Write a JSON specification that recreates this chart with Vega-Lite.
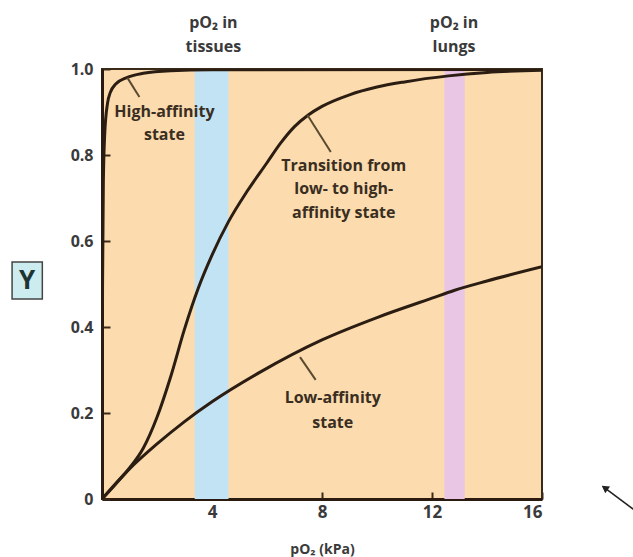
{
  "$schema": "https://vega.github.io/schema/vega-lite/v6.json",
  "autosize": {"type": "none"},
  "width": 440,
  "height": 430,
  "padding": {"left": 102, "top": 69, "right": 91, "bottom": 58},
  "background": "white",
  "config": {
    "view": {"fill": "#fcdcae", "stroke": "#3a2a1a", "strokeWidth": 2},
    "font": "Open Sans"
  },
  "datasets": {
    "bands": [
      {"band": "tissues", "x0": 3.37, "x1": 4.6},
      {"band": "lungs", "x0": 12.45, "x1": 13.19}
    ],
    "curves": [
      {"series": "high", "x": 0, "y": 0},
      {"series": "high", "x": 0.02, "y": 0.5},
      {"series": "high", "x": 0.05, "y": 0.74},
      {"series": "high", "x": 0.1, "y": 0.85},
      {"series": "high", "x": 0.2, "y": 0.92},
      {"series": "high", "x": 0.3, "y": 0.945},
      {"series": "high", "x": 0.5, "y": 0.965},
      {"series": "high", "x": 0.9, "y": 0.98},
      {"series": "high", "x": 1.5, "y": 0.99},
      {"series": "high", "x": 2.5, "y": 0.996},
      {"series": "high", "x": 4, "y": 0.998},
      {"series": "high", "x": 16, "y": 0.999},
      {"series": "trans", "x": 0, "y": 0},
      {"series": "trans", "x": 0.5, "y": 0.035},
      {"series": "trans", "x": 1, "y": 0.072},
      {"series": "trans", "x": 1.5, "y": 0.118},
      {"series": "trans", "x": 2, "y": 0.19},
      {"series": "trans", "x": 2.5, "y": 0.285},
      {"series": "trans", "x": 3, "y": 0.395},
      {"series": "trans", "x": 3.5, "y": 0.49},
      {"series": "trans", "x": 4, "y": 0.567},
      {"series": "trans", "x": 4.6, "y": 0.645},
      {"series": "trans", "x": 5.27, "y": 0.715},
      {"series": "trans", "x": 6, "y": 0.782},
      {"series": "trans", "x": 6.5, "y": 0.828},
      {"series": "trans", "x": 7, "y": 0.866},
      {"series": "trans", "x": 7.5, "y": 0.893},
      {"series": "trans", "x": 8, "y": 0.913},
      {"series": "trans", "x": 9, "y": 0.94},
      {"series": "trans", "x": 10, "y": 0.958},
      {"series": "trans", "x": 11, "y": 0.97},
      {"series": "trans", "x": 12.6, "y": 0.984},
      {"series": "trans", "x": 14, "y": 0.992},
      {"series": "trans", "x": 16, "y": 0.997},
      {"series": "low", "x": 0, "y": 0},
      {"series": "low", "x": 1, "y": 0.07},
      {"series": "low", "x": 2, "y": 0.128},
      {"series": "low", "x": 3, "y": 0.18},
      {"series": "low", "x": 4, "y": 0.226},
      {"series": "low", "x": 5.75, "y": 0.295},
      {"series": "low", "x": 8, "y": 0.37},
      {"series": "low", "x": 10, "y": 0.422},
      {"series": "low", "x": 12, "y": 0.467},
      {"series": "low", "x": 12.8, "y": 0.485},
      {"series": "low", "x": 14, "y": 0.507},
      {"series": "low", "x": 16, "y": 0.54}
    ],
    "pointers": [
      {"x": 0.92, "y": 0.98, "x2": 1.36, "y2": 0.935},
      {"x": 7.47, "y": 0.893, "x2": 8.32, "y2": 0.807},
      {"x": 7.2, "y": 0.33, "x2": 7.77, "y2": 0.277}
    ],
    "labels": [
      {"x": 2.27, "y": 0.9, "text": "High-affinity"},
      {"x": 2.27, "y": 0.846, "text": "state"},
      {"x": 8.79, "y": 0.775, "text": "Transition from"},
      {"x": 8.79, "y": 0.72, "text": "low- to high-"},
      {"x": 8.79, "y": 0.665, "text": "affinity state"},
      {"x": 8.39, "y": 0.235, "text": "Low-affinity"},
      {"x": 8.39, "y": 0.177, "text": "state"}
    ],
    "toplabels": [
      {"x": 4.05, "y": 1.107, "text": "pO₂ in"},
      {"x": 4.05, "y": 1.051, "text": "tissues"},
      {"x": 12.8, "y": 1.107, "text": "pO₂ in"},
      {"x": 12.8, "y": 1.051, "text": "lungs"}
    ],
    "ybox": [{"x0": -3.27, "x1": -2.17, "y0": 0.465, "y1": 0.551, "xc": -2.72, "yc": 0.508, "text": "Y"}],
    "arrow": [{"x": 18.28, "y": 0.026, "x2": 19.45, "y2": -0.03}]
  },
  "layer": [
    {
      "data": {"name": "bands"},
      "mark": {"type": "rect"},
      "encoding": {
        "x": {"field": "x0", "type": "quantitative", "scale": {"domain": [0, 16]},
          "axis": {"values": [4, 8, 12, 16], "title": "pO₂ (kPa)", "tickSize": -7, "tickWidth": 2, "tickColor": "#3a2a1a",
            "domainColor": "#2a1a10", "domainWidth": 3, "grid": false,
            "labelFont": "Open Sans", "labelFontWeight": "bold", "labelFontSize": 17, "labelColor": "#3a3a3a", "labelPadding": 12,
            "titleFont": "Open Sans", "titleFontWeight": "bold", "titleFontSize": 14, "titleColor": "#3a3a3a", "titlePadding": 22}},
        "x2": {"field": "x1"},
        "y": {"datum": 0, "type": "quantitative", "scale": {"domain": [0, 1]},
          "axis": {"values": [0, 0.2, 0.4, 0.6, 0.8, 1.0], "title": null, "tickSize": -8, "tickWidth": 2, "tickColor": "#3a2a1a",
            "labelExpr": "datum.value == 0 ? '0' : format(datum.value, '.1f')",
            "domainColor": "#2a1a10", "domainWidth": 3, "grid": false,
            "labelFont": "Open Sans", "labelFontWeight": "bold", "labelFontSize": 16, "labelColor": "#3a3a3a", "labelPadding": 17}},
        "y2": {"datum": 1},
        "color": {"field": "band", "type": "nominal", "scale": {"domain": ["tissues", "lungs"], "range": ["#c2e3f4", "#e9c6e4"]}, "legend": null}
      }
    },
    {
      "data": {"name": "curves"},
      "mark": {"type": "line", "interpolate": "monotone", "color": "#2b1d12", "strokeWidth": 3, "clip": true},
      "encoding": {
        "x": {"field": "x", "type": "quantitative"},
        "y": {"field": "y", "type": "quantitative"},
        "detail": {"field": "series"}
      }
    },
    {
      "data": {"name": "pointers"},
      "mark": {"type": "rule", "color": "#5a4a30", "strokeWidth": 2},
      "encoding": {
        "x": {"field": "x", "type": "quantitative"},
        "y": {"field": "y", "type": "quantitative"},
        "x2": {"field": "x2"},
        "y2": {"field": "y2"}
      }
    },
    {
      "data": {"name": "labels"},
      "mark": {"type": "text", "font": "Open Sans", "fontWeight": "bold", "fontSize": 16, "color": "#3a2e22", "align": "center", "baseline": "middle"},
      "encoding": {
        "x": {"field": "x", "type": "quantitative"},
        "y": {"field": "y", "type": "quantitative"},
        "text": {"field": "text"}
      }
    },
    {
      "data": {"name": "toplabels"},
      "mark": {"type": "text", "font": "Open Sans", "fontWeight": "bold", "fontSize": 16, "color": "#3a3a3a", "align": "center", "baseline": "middle", "clip": false},
      "encoding": {
        "x": {"field": "x", "type": "quantitative"},
        "y": {"field": "y", "type": "quantitative"},
        "text": {"field": "text"}
      }
    },
    {
      "data": {"name": "ybox"},
      "mark": {"type": "rect", "fill": "#cdecef", "stroke": "#444", "strokeWidth": 1.5},
      "encoding": {
        "x": {"field": "x0", "type": "quantitative"},
        "x2": {"field": "x1"},
        "y": {"field": "y0", "type": "quantitative"},
        "y2": {"field": "y1"}
      }
    },
    {
      "data": {"name": "ybox"},
      "mark": {"type": "text", "font": "Open Sans", "fontWeight": "bold", "fontSize": 26, "color": "#1e3333", "align": "center", "baseline": "middle"},
      "encoding": {
        "x": {"field": "xc", "type": "quantitative"},
        "y": {"field": "yc", "type": "quantitative"},
        "text": {"field": "text"}
      }
    },
    {
      "data": {"name": "arrow"},
      "mark": {"type": "rule", "color": "#222", "strokeWidth": 1.5},
      "encoding": {
        "x": {"field": "x", "type": "quantitative"},
        "y": {"field": "y", "type": "quantitative"},
        "x2": {"field": "x2"},
        "y2": {"field": "y2"}
      }
    },
    {
      "data": {"name": "arrow"},
      "mark": {"type": "point", "shape": "triangle-up", "filled": true, "color": "#222", "size": 70, "angle": 305, "opacity": 1},
      "encoding": {
        "x": {"field": "x", "type": "quantitative"},
        "y": {"field": "y", "type": "quantitative"}
      }
    }
  ]
}
